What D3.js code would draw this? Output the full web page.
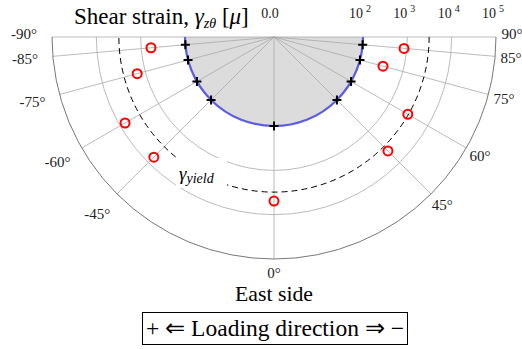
<!DOCTYPE html>
<html>
<head>
<meta charset="utf-8">
<script src="https://cdn.jsdelivr.net/npm/d3@7"></script>
<style>
  body { margin: 0; background: #fff; }
  text { font-family: "Liberation Serif", serif; }
</style>
</head>
<body>
<div id="chart"></div>
<script>
// angles in degrees, 0 = pointing down, west side negative
const angles = [-85, -75, -60, -45, 0, 45, 60, 75, 85];
const strain = [600, 1540, 7450, 6700, 4930, 4240, 3000, 345, 865];
const loadStrain = [100, 100, 100, 100, 100, 100, 100, 100, 100];
const yieldStrain = 3100;
const gridAngles = [-90, -85, -75, -60, -45, 0, 45, 60, 75, 85, 90];
const rTicks = [100, 1000, 10000, 100000];
const rTickExp = ['2', '3', '4', '5'];

const width = 522, height = 349;
const cx = 274, cy = 37;
const serif = '"Liberation Serif", serif';

let svg = d3.select('#chart')
  .append('svg')
    .attr('width', width)
    .attr('height', height)
    .attr('font-family', serif)
;

let logR = d3.scaleLog().domain([100, 100000]).range([89, 222]);
function rad(v) {
  return v <= 0 ? 0 : logR(v);
}
function px(a, r) { return cx + r * Math.sin(a * Math.PI / 180); }
function py(a, r) { return cy + r * Math.cos(a * Math.PI / 180); }

function halfCircle(r) {
  let p = d3.path();
  p.moveTo(cx + r, cy);
  p.arc(cx, cy, r, 0, Math.PI, false);
  return p.toString();
}

// scale a text's font so it spans the given width
function fit(sel, w) {
  let fs = +sel.attr('font-size');
  let len = sel.node().getComputedTextLength();
  if (len > 0) sel.attr('font-size', fs * w / len);
}

// shaded region inside 10^2
svg.append('path')
    .attr('d', halfCircle(rad(100)) + 'Z')
    .attr('fill', '#dcdcdc')
;

// inner rings
svg.selectAll('.ring').data(rTicks.slice(1, 3)).enter()
  .append('path')
    .attr('class', 'ring')
    .attr('d', d => halfCircle(rad(d)))
    .attr('fill', 'none')
    .attr('stroke', '#aaaaaa')
    .attr('stroke-width', 0.8)
;

// radial grid
svg.selectAll('.spoke').data(gridAngles).enter()
  .append('line')
    .attr('class', 'spoke')
    .attr('x1', cx)
    .attr('y1', cy)
    .attr('x2', d => px(d, rad(100000)))
    .attr('y2', d => py(d, rad(100000)))
    .attr('stroke', '#aaaaaa')
    .attr('stroke-width', 0.8)
;

// outer ring
svg.append('path')
    .attr('d', halfCircle(rad(100000)))
    .attr('fill', 'none')
    .attr('stroke', '#777777')
    .attr('stroke-width', 1)
;

// yield circle (dashed)
svg.append('path')
    .attr('d', halfCircle(rad(yieldStrain)))
    .attr('fill', 'none')
    .attr('stroke', '#000')
    .attr('stroke-width', 1)
    .attr('stroke-dasharray', '6,4')
;

// gamma yield label with white backing
svg.append('rect')
    .attr('x', 176)
    .attr('y', 158)
    .attr('width', 51)
    .attr('height', 30)
    .attr('fill', '#fff')
;
let ylab = svg.append('text')
    .attr('x', 179)
    .attr('y', 180)
    .attr('font-family', serif)
    .attr('font-style', 'italic')
    .attr('font-size', 19)
;
ylab.append('tspan').text('γ');
ylab.append('tspan').attr('font-size', 14).attr('dy', 3).text('yield');

// blue loading ring
svg.append('path')
    .attr('d', halfCircle(rad(100)))
    .attr('fill', 'none')
    .attr('stroke', '#5c5ce0')
    .attr('stroke-width', 2.2)
;

// loading crosses
let crosses = svg.selectAll('.cross').data(angles).enter()
  .append('g')
    .attr('class', 'cross')
    .attr('transform', (d, i) => 'translate(' + px(d, rad(loadStrain[i])) + ',' + py(d, rad(loadStrain[i])) + ')')
;
crosses.append('path')
    .attr('d', 'M-4.5,0H4.5M0,-4.5V4.5')
    .attr('stroke', '#000')
    .attr('stroke-width', 2)
;

// measured strain
svg.selectAll('.pt').data(angles).enter()
  .append('circle')
    .attr('class', 'pt')
    .attr('cx', (d, i) => px(d, rad(strain[i])))
    .attr('cy', (d, i) => py(d, rad(strain[i])))
    .attr('r', 4.5)
    .attr('fill', 'none')
    .attr('stroke', '#ff0000')
    .attr('stroke-width', 2)
;

// angle labels
svg.selectAll('.alab').data(gridAngles).enter()
  .append('text')
    .attr('class', 'alab')
    .attr('x', d => px(d, d < 0 ? 250 : (d == 0 ? 236 : 238)))
    .attr('y', d => py(d, d < 0 ? 250 : (d == 0 ? 236 : 238)) - (Math.abs(d) == 90 ? 3 : 0))
    .attr('text-anchor', 'middle')
    .attr('dominant-baseline', 'central')
    .attr('font-family', serif)
    .attr('font-size', 15)
    .attr('fill', '#222')
    .text(d => d + '°')
;

// radial tick labels
svg.append('text')
    .attr('x', 270)
    .attr('y', 18)
    .attr('text-anchor', 'middle')
    .attr('font-family', serif)
    .attr('font-size', 14)
    .attr('fill', '#222')
    .text('0.0')
;
let rlab = svg.selectAll('.rlab').data(rTicks).enter()
  .append('g')
    .attr('class', 'rlab')
;
rlab.append('text')
    .attr('x', d => cx + rad(d))
    .attr('y', 18)
    .attr('text-anchor', 'end')
    .attr('font-family', serif)
    .attr('font-size', 14)
    .attr('fill', '#222')
    .text('10')
;
rlab.append('text')
    .attr('x', d => cx + rad(d) + 3)
    .attr('y', 12)
    .attr('font-family', serif)
    .attr('font-size', 10)
    .attr('fill', '#222')
    .text((d, i) => rTickExp[i])
;

// title
let title = svg.append('text')
    .attr('x', 74)
    .attr('y', 24)
    .attr('font-family', serif)
    .attr('font-size', 21)
;
title.append('tspan').text('Shear strain, ');
title.append('tspan').attr('font-style', 'italic').text('γ');
title.append('tspan').attr('font-style', 'italic').attr('font-size', 14).attr('dy', 4).text('zθ');
title.append('tspan').attr('dy', -4).text(' [');
title.append('tspan').attr('font-style', 'italic').text('μ');
title.append('tspan').text(']');
fit(title, 176);

// bottom labels
let east = svg.append('text')
    .attr('x', cx)
    .attr('y', 301)
    .attr('text-anchor', 'middle')
    .attr('font-family', serif)
    .attr('font-size', 19)
    .text('East side')
;
fit(east, 78);
svg.append('rect')
    .attr('x', 142.5)
    .attr('y', 312.5)
    .attr('width', 265)
    .attr('height', 32)
    .attr('fill', 'none')
    .attr('stroke', '#000')
    .attr('stroke-width', 1)
;
let box = svg.append('text')
    .attr('x', 275)
    .attr('y', 336)
    .attr('text-anchor', 'middle')
    .attr('font-family', serif)
    .attr('font-size', 20)
    .text('+ ⇐ Loading direction ⇒ −')
;
fit(box, 258);
</script>
</body>
</html>
